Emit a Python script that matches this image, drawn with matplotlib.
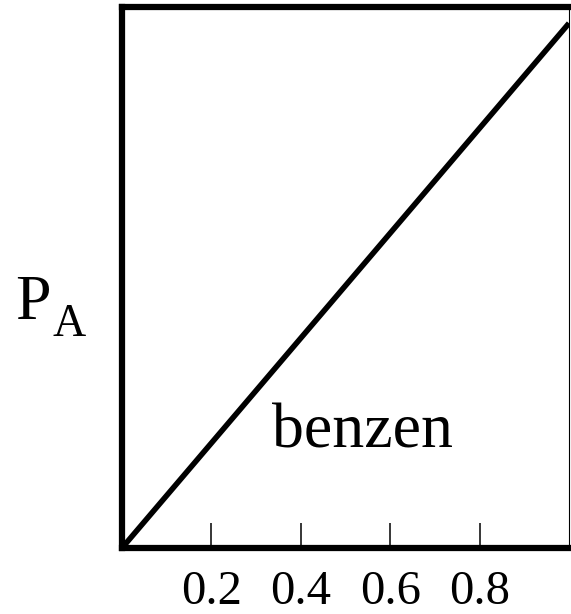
import matplotlib
matplotlib.use('Agg')
import matplotlib.pyplot as plt

# mole fraction of benzene vs partial pressure (straight Raoult line)
x_benzen = [0.0, 1.0]
p_benzen = [0.0, 0.97]
tick_values = [0.2, 0.4, 0.6, 0.8]
tick_labels = ['0.2', '0.4', '0.6', '0.8']

W, H = 571, 614
fig = plt.figure(figsize=(W / 100, H / 100), dpi=100)
ax = fig.add_axes([122 / W, 1 - 548 / H, (569 - 122) / W, (548 - 7) / H])

ax.plot(x_benzen, p_benzen, color='black', linewidth=4.0, solid_capstyle='butt')
ax.set_xlim(0, 1)
ax.set_ylim(0, 1)

for side in ['left', 'top', 'bottom']:
    ax.spines[side].set_linewidth(4.5)
ax.spines['right'].set_linewidth(0.8)

ax.set_xticks(tick_values)
ax.set_xticklabels(tick_labels, fontfamily='Liberation Serif', fontsize=35)
ax.tick_params(axis='x', direction='in', length=18, width=1.1, pad=16)
ax.set_yticks([])

fig.text(15 / W, 1 - 319 / H, 'P', fontfamily='Liberation Serif', fontsize=46,
         ha='left', va='baseline')
fig.text(53 / W, 1 - 336 / H, 'A', fontfamily='Liberation Serif', fontsize=33,
         ha='left', va='baseline')
fig.text(272 / W, 1 - 447 / H, 'benzen', fontfamily='Liberation Serif',
         fontsize=46, ha='left', va='baseline')

fig.savefig('out.png', dpi=100)
